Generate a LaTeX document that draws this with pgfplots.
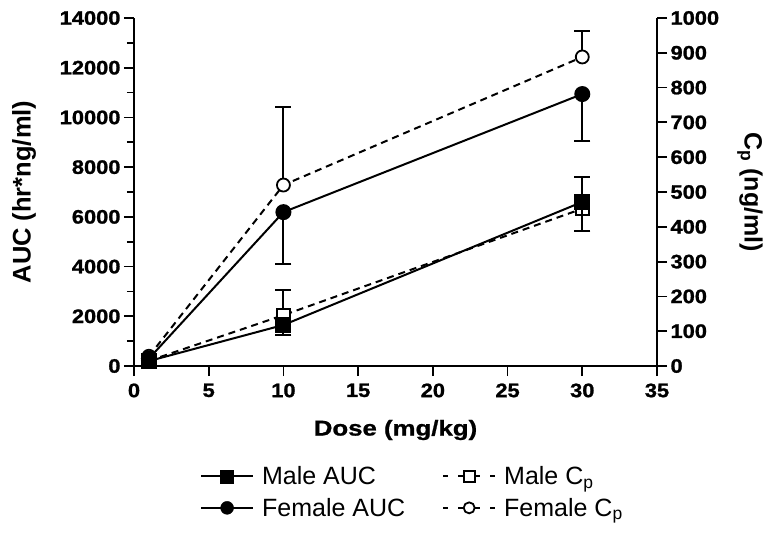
\documentclass[border=0pt]{standalone}
\usepackage{pgfplots}
\pgfplotsset{compat=1.18}
\usepackage{fontspec}
\setmainfont{Liberation Sans}
\newfontfamily\stretchfont[FakeStretch=1.12, FakeBold=1.2]{Liberation Sans}
\newfontfamily\labelfont[FakeStretch=1.2, FakeBold=1]{Liberation Sans}

\pgfplotsset{
  common/.style={
    scale only axis, width=523pt, height=348pt,
    xmin=0, xmax=35, clip=false,
    axis line style={line width=1.8pt},
    tick style={line width=1.8pt, black},
    tick align=outside, major tick length=10pt, minor tick length=7pt,
    tick label style={font=\stretchfont\bfseries\fontsize{19.5}{21}\selectfont},
    /pgf/number format/assume math mode=true,
    /pgf/number format/1000 sep={},
    scaled ticks=false,
  },
  error bars/ebar/.style={error mark=|, error bar style={solid, line width=2pt},
    error mark options={solid, line width=2pt, mark size=8pt}},
}

\begin{document}
\begin{tikzpicture}
% ---------- right axis: Cp ----------
\begin{axis}[common,
  axis y line*=right, axis x line=none,
  ymin=0, ymax=1000, ytick distance=100,
  ylabel={C\textsubscript{p} (ng/ml)},
  every axis y label/.style={at={(axis description cs:1.178,0.5)}, rotate=-90, anchor=center,
    font=\bfseries\fontsize{25}{28}\selectfont},
]
% Male Cp
\addplot[black, line width=2pt, dash pattern=on 7pt off 5pt,
  mark=square*, mark size=6.5pt, mark options={solid, fill=white, line width=1.8pt},
  error bars/.cd, y dir=plus, y explicit, ebar]
  coordinates {(1,15) +- (0,0) (10,146) +- (0,72) (30,452) +- (0,91)};
% Female Cp
\addplot[black, line width=2pt, dash pattern=on 7pt off 5pt,
  mark=*, mark size=6.5pt, mark options={solid, fill=white, line width=1.8pt},
  error bars/.cd, y dir=plus, y explicit, ebar]
  coordinates {(1,28) +- (0,0) (10,520) +- (0,224) (30,888) +- (0,75)};
\end{axis}

% ---------- left axis: AUC ----------
\begin{axis}[common,
  axis y line*=left, axis x line*=bottom,
  ymin=0, ymax=14000, ytick distance=2000, minor y tick num=1,
  xtick distance=5,
  xticklabel style={yshift=-4pt},
  ylabel={AUC (hr*ng/ml)},
  every axis y label/.style={at={(axis description cs:-0.2103,0.5)}, rotate=90, anchor=center,
    font=\bfseries\fontsize{25.5}{28}\selectfont},
  xlabel={Dose (mg/kg)},
  every axis x label/.style={at={(axis description cs:0.5,-0.184)}, anchor=center,
    font=\labelfont\bfseries\fontsize{21.5}{24}\selectfont},
  legend columns=2, legend cell align=left,
  legend style={at={(axis description cs:0.126,-0.288)}, anchor=north west,
    draw=none, fill=none, inner sep=0pt, row sep=12pt,
    font=\fontsize{25}{28}\selectfont,
    nodes={inner sep=0pt},
    /tikz/every odd column/.style={column sep=8pt},
    /tikz/every even column/.style={column sep=37pt}},
]
\addlegendimage{legend image code/.code={
  \draw[black, line width=2pt] (0pt,0pt) -- (52pt,0pt);
  \draw[black, mark=square*, mark size=6.5pt] plot coordinates {(26pt,0pt)};}}
\addlegendentry{Male AUC}
\addlegendimage{legend image code/.code={
  \draw[black, line width=2pt] (0pt,0pt) -- (5pt,0pt) (47pt,0pt) -- (52pt,0pt) (15pt,0pt) -- (37pt,0pt);
  \draw[black, line width=1.8pt, mark=square*, mark size=5.5pt, mark options={fill=white}] plot coordinates {(26pt,0pt)};}}
\addlegendentry{Male C\textsubscript{p}}
\addlegendimage{legend image code/.code={
  \draw[black, line width=2pt] (0pt,0pt) -- (52pt,0pt);
  \draw[black, mark=*, mark size=6.5pt] plot coordinates {(26pt,0pt)};}}
\addlegendentry{Female AUC}
\addlegendimage{legend image code/.code={
  \draw[black, line width=2pt] (0pt,0pt) -- (5pt,0pt) (47pt,0pt) -- (52pt,0pt) (15pt,0pt) -- (37pt,0pt);
  \draw[black, line width=1.8pt, mark=*, mark size=5.5pt, mark options={fill=white}] plot coordinates {(26pt,0pt)};}}
\addlegendentry{Female C\textsubscript{p}}

% Male AUC
\addplot[black, line width=2pt, forget plot,
  mark=square*, mark size=7pt, mark options={solid, fill=black},
  error bars/.cd, y dir=minus, y explicit, ebar]
  coordinates {(1,200) +- (0,0) (10,1650) +- (0,400) (30,6600) +- (0,1170)};
% Female AUC
\addplot[black, line width=2pt, forget plot,
  mark=*, mark size=7pt, mark options={solid, fill=black},
  error bars/.cd, y dir=minus, y explicit, ebar]
  coordinates {(1,300) +- (0,0) (10,6190) +- (0,2090) (30,10940) +- (0,1870)};
\end{axis}
\pgfresetboundingbox
\useasboundingbox (-134pt,-167pt) rectangle (637pt,366pt);
\end{tikzpicture}
\end{document}
